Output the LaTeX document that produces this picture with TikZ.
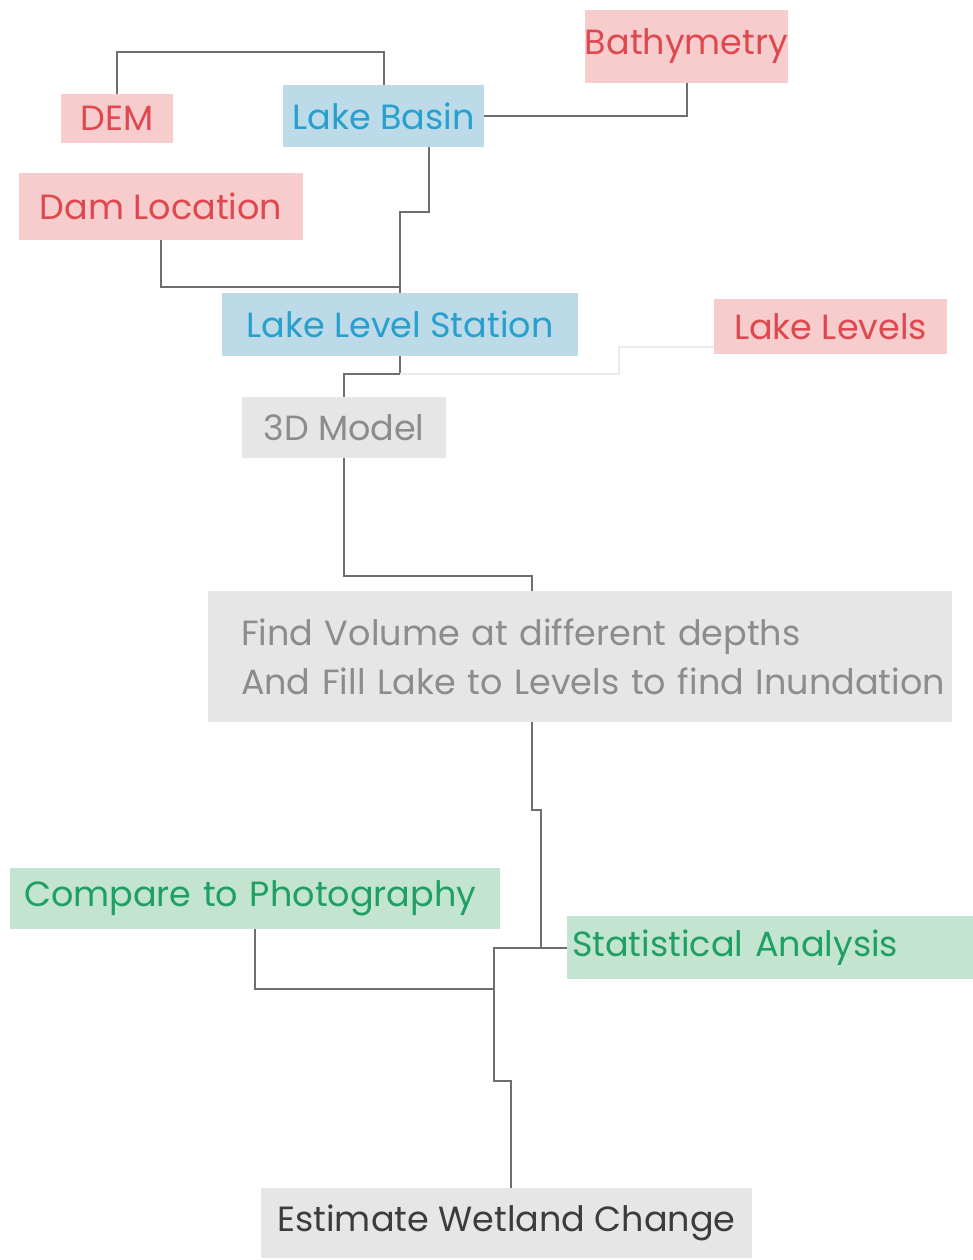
\documentclass[tikz,border=0pt]{standalone}
\usepackage{fontspec}
\setmainfont{Poppins}
\definecolor{pinkbg}{RGB}{246,204,204}
\definecolor{redtx}{RGB}{222,72,78}
\definecolor{bluebg}{RGB}{188,218,232}
\definecolor{bluetx}{RGB}{38,160,205}
\definecolor{graybg}{RGB}{230,230,230}
\definecolor{graytx}{RGB}{140,140,140}
\definecolor{greenbg}{RGB}{196,228,210}
\definecolor{greentx}{RGB}{30,160,100}
\definecolor{darktx}{RGB}{60,60,60}
\definecolor{linecol}{RGB}{110,110,110}
\tikzset{
  box/.style={inner sep=0pt,font=\fontsize{35}{49}\selectfont},
  source/.style={box,fill=pinkbg,text=redtx},
  site/.style={box,fill=bluebg,text=bluetx},
  work/.style={box,fill=graybg,text=graytx},
  check/.style={box,fill=greenbg,text=greentx},
  link/.style={draw=linecol,line width=2pt},
  faint/.style={draw=black!8,line width=2pt}
}
\begin{document}
\begin{tikzpicture}[x=1pt,y=-1pt]
\useasboundingbox (0,0) rectangle (973,1260);
% inputs
\node[source,minimum width=203,minimum height=73] (bathy) at (686.5,46.5) {Bathymetry};
\node[source,minimum width=112,minimum height=49] (dem) at (117,118.5) {DEM};
\node[site,minimum width=201,minimum height=62] (basin) at (383.5,116) {Lake Basin};
\node[source,minimum width=284,minimum height=67] (dam) at (161,206.5) {Dam Location};
\node[site,minimum width=356,minimum height=63] (station) at (400,324.5) {Lake Level Station};
\node[source,minimum width=233,minimum height=55] (levels) at (830.5,326.5) {Lake Levels};
% processing
\node[work,minimum width=744,minimum height=131,text width=678,align=left] (volume) at (580,656.5)
  {\mbox{Find Volume at different depths}\\\mbox{And Fill Lake to Levels to find Inundation}};
\node[work,minimum width=204,minimum height=61] (model) at (344,427.5) {3D Model};
\node[check,minimum width=490,minimum height=61,text width=462,align=left] (compare) at (255,898.5) {Compare to Photography};
\node[check,minimum width=406,minimum height=63,text width=396,align=left] (stats) at (770,947.5) {Statistical Analysis};
\node[work,text=darktx,minimum width=491,minimum height=70] (estimate) at (506.5,1223) {Estimate Wetland Change};
% connectors
\draw[link] (dem.north) -- ++(0,-42) -| (basin.north);
\draw[link] (basin.east) -| (bathy.south);
\draw[link] ([xshift=45]basin.south) -- ++(0,65) -| (station.north);
\draw[link] (dam.south) -- ++(0,47) -| (station.north);
\draw[link] (station.south) -- ++(0,18) coordinate (j1) -| (model.north);
\draw[faint] ([yshift=-20]levels.west) -- ++(-95,0) |- (j1);
\draw[link] (model.south) -- ++(0,118) -| ([xshift=-48]volume.north);
\draw[link] (stats.west) -- ++(-73,0) coordinate (j2) -- ++(0,133) -| ([xshift=4]estimate.north);
\draw[link] ([xshift=-48]volume.south) -- ++(0,88) -- ++(9,0) |- (j2);
\draw[link] (compare.south) -- ++(0,60) -| (j2);
\end{tikzpicture}
\end{document}
